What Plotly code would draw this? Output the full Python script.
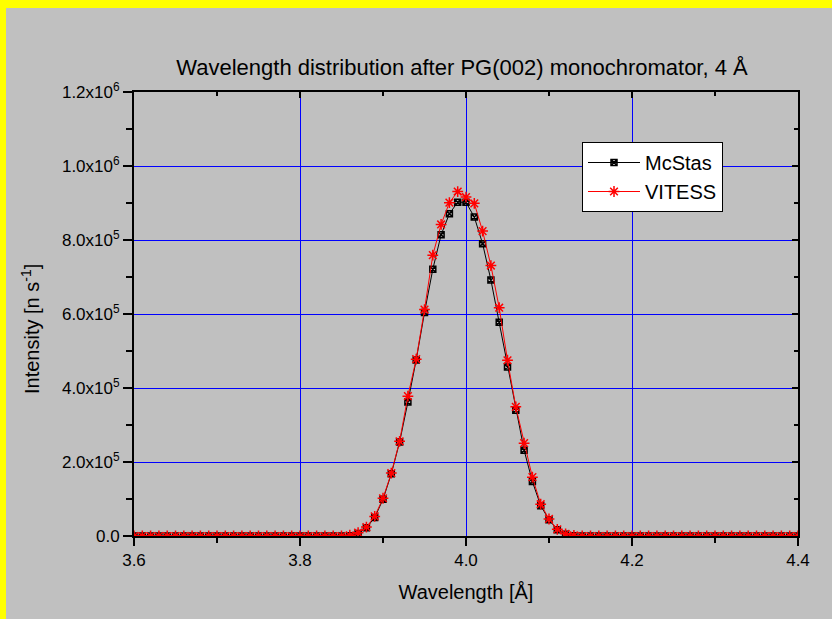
import plotly.graph_objects as go

# ---- data ----
wavelength = [round(3.60 + 0.01 * i, 2) for i in range(81)]

mcstas_peak = {
    3.86: 1000, 3.87: 7000, 3.88: 22000, 3.89: 50000, 3.90: 99000,
    3.91: 168000, 3.92: 254000, 3.93: 362000, 3.94: 476000, 3.95: 604000,
    3.96: 721000, 3.97: 814000, 3.98: 871000, 3.99: 902000, 4.00: 902000,
    4.01: 862000, 4.02: 790000, 4.03: 692000, 4.04: 578000, 4.05: 457000,
    4.06: 340000, 4.07: 232000, 4.08: 147000, 4.09: 82000, 4.10: 44000,
    4.11: 17000, 4.12: 5000, 4.13: 1000,
}
vitess_peak = {
    3.86: 2000, 3.87: 9000, 3.88: 24000, 3.89: 53000, 3.90: 102000,
    3.91: 170000, 3.92: 256000, 3.93: 378000, 3.94: 478000, 3.95: 612000,
    3.96: 759000, 3.97: 842000, 3.98: 901000, 3.99: 931000, 4.00: 916000,
    4.01: 899000, 4.02: 824000, 4.03: 731000, 4.04: 617000, 4.05: 475000,
    4.06: 349000, 4.07: 251000, 4.08: 159000, 4.09: 86000, 4.10: 46000,
    4.11: 18000, 4.12: 6000, 4.13: 1500,
}
mcstas = [mcstas_peak.get(w, 0) for w in wavelength]
vitess = [vitess_peak.get(w, 0) for w in wavelength]

x_ticks = [3.6, 3.8, 4.0, 4.2, 4.4]
x_ticktext = ["3.6", "3.8", "4.0", "4.2", "4.4"]
x_minor = [3.7, 3.9, 4.1, 4.3]
y_ticks = [0, 2e5, 4e5, 6e5, 8e5, 1e6, 1.2e6]
y_ticktext = ["0.0", "2.0x10<sup>5</sup>", "4.0x10<sup>5</sup>", "6.0x10<sup>5</sup>",
              "8.0x10<sup>5</sup>", "1.0x10<sup>6</sup>", "1.2x10<sup>6</sup>"]
y_minor = [1e5, 3e5, 5e5, 7e5, 9e5, 1.1e6]

FONT = "Arial, Liberation Sans, sans-serif"
BG = "#C0C0C0"

fig = go.Figure()
fig.add_trace(go.Scatter(
    x=wavelength, y=mcstas, name="McStas", mode="lines+markers",
    line=dict(color="black", width=1),
    marker=dict(symbol="square-x-open", size=6, color="black", line=dict(width=1.5, color="black")),
))
fig.add_trace(go.Scatter(
    x=wavelength, y=vitess, name="VITESS", mode="lines+markers",
    line=dict(color="#FF0000", width=1),
    marker=dict(symbol="asterisk-open", size=9, color="#FF0000", line=dict(width=1.5, color="#FF0000")),
))
# invisible trace anchoring the mirrored axes (inward ticks on top/right)
fig.add_trace(go.Scatter(x=[3.6], y=[0], xaxis="x2", yaxis="y2", mode="markers",
                         marker=dict(opacity=0), showlegend=False, hoverinfo="skip"))

L, R, T, B = 134, 34, 92, 83
W, H = 832, 619
pw, ph = W - L - R, H - T - B

def px(xp):
    return (xp - L) / pw

def py(yp):
    return (H - B - yp) / ph

fig.update_layout(
    width=W, height=H,
    margin=dict(l=L, r=R, t=T, b=B, autoexpand=False),
    paper_bgcolor=BG,
    plot_bgcolor=BG,
    font=dict(family=FONT, color="black"),
    title=dict(text="Wavelength distribution after PG(002) monochromator, 4 Å",
               x=px(462), xref="paper", xanchor="center",
               y=1 - 67 / H, yref="container", yanchor="middle",
               font=dict(size=22, family=FONT, color="black")),
    showlegend=True,
    legend=dict(x=px(582), y=py(142), xanchor="left", yanchor="top",
                bgcolor="white", bordercolor="black", borderwidth=1,
                font=dict(size=20, family=FONT, color="black"),
                tracegroupgap=0, itemwidth=52),
    xaxis=dict(range=[3.6, 4.4], tickmode="array", tickvals=x_ticks, ticktext=x_ticktext,
               ticks="outside", ticklen=8, tickwidth=2, tickcolor="black",
               minor=dict(tickvals=x_minor, ticks="outside", ticklen=5, tickwidth=2, tickcolor="black", showgrid=False),
               showline=True, linecolor="black", linewidth=2,
               showgrid=True, gridcolor="#0000FF", gridwidth=1,
               zeroline=False, tickfont=dict(size=17, family=FONT),
               title=dict(text="Wavelength [Å]", font=dict(size=20, family=FONT), standoff=16)),
    yaxis=dict(range=[0, 1.2e6], tickmode="array", tickvals=y_ticks, ticktext=y_ticktext,
               ticks="outside", ticklen=9, tickwidth=2, tickcolor="black",
               minor=dict(tickvals=y_minor, ticks="outside", ticklen=6, tickwidth=2, tickcolor="black", showgrid=False),
               showline=True, linecolor="black", linewidth=2,
               showgrid=True, gridcolor="#0000FF", gridwidth=1,
               zeroline=False, tickfont=dict(size=17, family=FONT)),
    xaxis2=dict(range=[3.6, 4.4], overlaying="x", side="top", anchor="y2",
                tickmode="array", tickvals=x_ticks, ticks="inside", ticklen=6, tickwidth=2,
                tickcolor="black", showticklabels=False, showgrid=False, zeroline=False,
                minor=dict(tickvals=x_minor, ticks="inside", ticklen=4, tickwidth=2,
                           tickcolor="black", showgrid=False),
                showline=True, linecolor="black", linewidth=2),
    yaxis2=dict(range=[0, 1.2e6], overlaying="y", side="right", anchor="x2",
                tickmode="array", tickvals=y_ticks, ticks="inside", ticklen=6, tickwidth=2,
                tickcolor="black", showticklabels=False, showgrid=False, zeroline=False,
                minor=dict(tickvals=y_minor, ticks="inside", ticklen=4, tickwidth=2,
                           tickcolor="black", showgrid=False),
                showline=True, linecolor="black", linewidth=2),
    annotations=[dict(text="Intensity [n s<sup>-1</sup>]", textangle=-90,
                      xref="paper", yref="paper", x=px(30), y=py(329),
                      xanchor="center", yanchor="middle", showarrow=False,
                      font=dict(size=20, family=FONT, color="black"))],
    shapes=[
        dict(type="rect", xref="paper", yref="paper", x0=px(-2), x1=px(6),
             y0=py(H + 2), y1=py(-2), fillcolor="#FFFF00", line=dict(width=0), layer="below"),
        dict(type="rect", xref="paper", yref="paper", x0=px(-2), x1=px(W + 2),
             y0=py(8), y1=py(-2), fillcolor="#FFFF00", line=dict(width=0), layer="below"),
    ],
)

fig.write_html("out.html")
